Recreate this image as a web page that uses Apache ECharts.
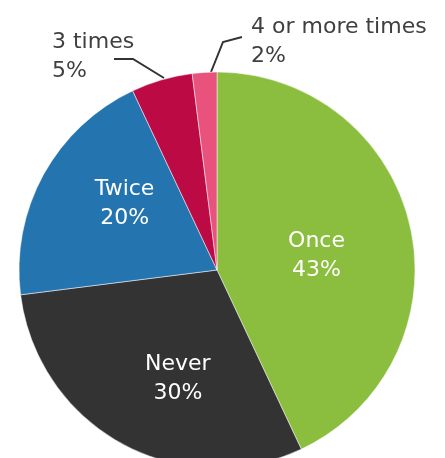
<!DOCTYPE html>
<html><head><meta charset="utf-8">
<script src="https://cdn.jsdelivr.net/npm/echarts@6/dist/echarts.min.js"></script>
<style>html,body{margin:0;padding:0;background:#fff}#c{width:445px;height:458px}</style>
</head><body><div id="c"></div>
<script>
var categories = ['Once', 'Never', 'Twice', '3 times', '4 or more times'];
var values = [43, 30, 20, 5, 2];
var colors = ['#8BBE3F', '#333333', '#2474B0', '#BC0A45', '#E8527D'];
var insideOffsets = [[0, 8], [10, 19], [-3, -17]];

var chart = echarts.init(document.getElementById('c'), null, {renderer: 'canvas'});
var data = categories.map(function (n, i) {
  var item = {name: n, value: values[i], itemStyle: {color: colors[i]}};
  if (i < 3) {
    item.label = {position: 'inside', color: '#fff', offset: insideOffsets[i]};
    item.labelLine = {show: false};
  } else {
    item.label = {position: 'outside', color: '#404040'};
    item.labelLine = {show: true};
  }
  return item;
});
chart.setOption({
  animation: false,
  series: [{
    type: 'pie',
    center: [217, 270],
    radius: 198,
    startAngle: 90,
    clockwise: true,
    itemStyle: {borderColor: '#fff', borderWidth: 0.5},
    label: {
      formatter: '{b}\n{c}%',
      fontFamily: 'DejaVu Sans',
      fontSize: 22,
      lineHeight: 29,
      align: 'center',
      overflow: 'none'
    },
    labelLine: {lineStyle: {color: '#333', width: 2}},
    labelLayout: function (p) {
      if (p.dataIndex === 3) {
        return {x: 52, y: 28, align: 'left', verticalAlign: 'top',
          labelLinePoints: [[164, 78], [133, 59], [114, 59]]};
      }
      if (p.dataIndex === 4) {
        return {x: 251, y: 13, align: 'left', verticalAlign: 'top',
          labelLinePoints: [[211, 72], [223, 42], [242, 37]]};
      }
      return {};
    },
    data: data
  }]
});
</script></body></html>
